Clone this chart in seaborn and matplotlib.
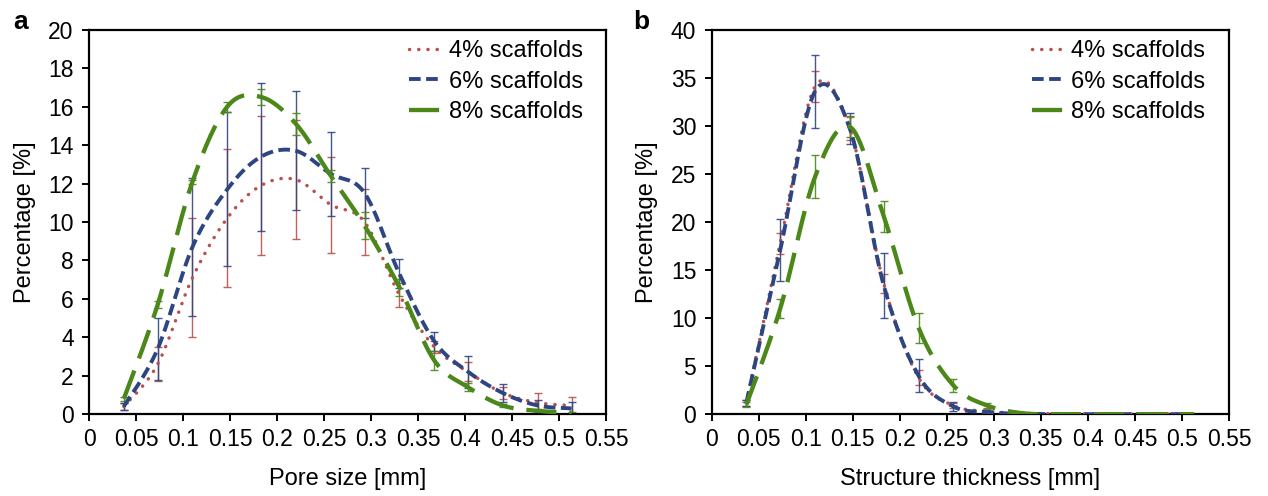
import numpy as np
import pandas as pd
import matplotlib
matplotlib.use("Agg")
import matplotlib.pyplot as plt
import seaborn as sns

# bin centres [mm] (same for both panels)
x_mm = [0.037, 0.073, 0.110, 0.147, 0.183, 0.220, 0.257,
        0.293, 0.330, 0.367, 0.403, 0.440, 0.477, 0.513]

# panel a - pore size distribution [%]
pore_4 = [0.4, 2.6, 7.1, 10.2, 11.9, 12.2, 10.9, 10.0, 6.2, 3.5, 2.2, 1.1, 0.6, 0.45]
pore_4_err = [0.2, 0.9, 3.1, 3.6, 3.6, 3.1, 2.5, 1.7, 0.6, 0.3, 0.5, 0.3, 0.5, 0.45]
pore_6 = [0.4, 3.4, 8.7, 11.7, 13.4, 13.7, 12.5, 11.5, 7.3, 3.8, 2.2, 1.1, 0.45, 0.3]
pore_6_err = [0.2, 1.6, 3.6, 4.0, 3.85, 3.1, 2.2, 1.3, 0.75, 0.5, 0.85, 0.45, 0.3, 0.35]
pore_8 = [0.8, 5.7, 12.1, 16.0, 16.5, 15.1, 12.4, 9.8, 6.6, 2.8, 1.4, 0.45, 0.17, 0.08]
pore_8_err = [0.1, 0.2, 0.1, 0.26, 0.4, 0.57, 0.3, 0.7, 0.45, 0.5, 0.2, 0.1, 0.1, 0.05]

# panel b - structure thickness distribution [%]
thick_4 = [1.2, 17.8, 34.1, 29.7, 13.6, 3.8, 0.9, 0.3, 0.1, 0.05, 0.05, 0.05, 0.05, 0.05]
thick_4_err = [0.3, 1.1, 1.6, 1.2, 1.0, 0.8, 0.3, 0.2, 0.05, 0.0, 0.0, 0.0, 0.0, 0.0]
thick_6 = [1.2, 17.1, 33.6, 29.7, 13.4, 4.0, 0.8, 0.2, 0.05, 0.0, 0.0, 0.0, 0.0, 0.0]
thick_6_err = [0.3, 3.2, 3.8, 1.6, 3.4, 1.7, 0.5, 0.2, 0.05, 0.0, 0.0, 0.0, 0.0, 0.0]
thick_8 = [1.0, 11.0, 24.7, 29.9, 20.6, 9.0, 3.0, 0.9, 0.1, 0.0, 0.0, 0.0, 0.0, 0.0]
thick_8_err = [0.3, 1.0, 2.25, 1.1, 1.6, 1.56, 0.65, 0.3, 0.05, 0.0, 0.0, 0.0, 0.0, 0.0]

labels = ["4% scaffolds", "6% scaffolds", "8% scaffolds"]
colors = ["#B9504B", "#2D4682", "#4B8719"]


def smooth(xs, ys, n=30):
    # Excel-like smoothed line: Catmull-Rom spline drawn as cubic Bezier pieces
    p = np.column_stack([xs, ys]).astype(float)
    p = np.vstack([p[0], p, p[-1]])
    t = np.linspace(0, 1, n)[:, None]
    out = []
    for i in range(1, len(p) - 2):
        p0, p1, p2, p3 = p[i - 1], p[i], p[i + 1], p[i + 2]
        c1 = p1 + (p2 - p0) / 6
        c2 = p2 - (p3 - p1) / 6
        seg = ((1 - t) ** 3) * p1 + 3 * ((1 - t) ** 2) * t * c1 + 3 * (1 - t) * t ** 2 * c2 + t ** 3 * p2
        out.append(seg if i == 1 else seg[1:])
    out = np.vstack(out)
    return pd.DataFrame({"x": out[:, 0], "y": out[:, 1]})


sns.set_theme(style="ticks")
plt.rcParams["font.family"] = ["Liberation Sans", "DejaVu Sans"]
plt.rcParams["text.color"] = "black"

fig = plt.figure(figsize=(12.68, 4.96), dpi=100)
ax_a = fig.add_axes([0.0702, 0.165, 0.408, 0.775])
ax_b = fig.add_axes([0.5612, 0.165, 0.408, 0.775])

styles = [
    dict(lw=2.5, ls=(0, (0.05, 2.6)), cap="round"),
    dict(lw=2.8, ls=(0, (3.0, 1.4)), cap="butt"),
    dict(lw=3.1, ls=(0, (7.0, 3.0)), cap="butt"),
]

panels = [
    (ax_a, [pore_4, pore_6, pore_8], [pore_4_err, pore_6_err, pore_8_err], 20, 2, "Pore size [mm]"),
    (ax_b, [thick_4, thick_6, thick_8], [thick_4_err, thick_6_err, thick_8_err], 40, 5, "Structure thickness [mm]"),
]

for ax, series, errs, ymax, ystep, xlabel in panels:
    handles = []
    for ys, es, lab, col, st in zip(series, errs, labels, colors, styles):
        ax.errorbar(x_mm, ys, yerr=es, fmt="none", ecolor=col, elinewidth=1.0,
                    capsize=3, capthick=1.0, alpha=0.9, zorder=2)
        sns.lineplot(data=smooth(x_mm, ys), x="x", y="y", ax=ax, color=col, lw=st["lw"],
                     linestyle=st["ls"], sort=False, estimator=None, label=lab, zorder=3)
        line = ax.lines[-1]
        line.set_dash_capstyle(st["cap"])
        handles.append(line)
    ax.set_xlim(0, 0.55)
    ax.set_ylim(0, ymax)
    ax.set_xticks(np.arange(0, 0.5501, 0.05))
    ax.set_xticklabels(["0", "0.05", "0.1", "0.15", "0.2", "0.25", "0.3", "0.35",
                        "0.4", "0.45", "0.5", "0.55"])
    ax.set_yticks(np.arange(0, ymax + 0.1, ystep))
    ax.tick_params(axis="both", direction="out", length=5, width=1.4, labelsize=16.5,
                   color="black", labelcolor="black", pad=6)
    ax.tick_params(axis="x", pad=5)
    for s in ax.spines.values():
        s.set_visible(True)
        s.set_linewidth(1.6)
        s.set_color("black")
    ax.set_xlabel(xlabel, fontsize=17, labelpad=12, color="black")
    ax.set_ylabel("Percentage [%]", fontsize=17, labelpad=9, color="black")
    ax.legend(handles=handles, labels=labels, loc="upper right", frameon=False,
              fontsize=17, handlelength=1.35, handletextpad=0.32, labelspacing=0.35,
              borderaxespad=0.6, bbox_to_anchor=(1.0, 1.034))

fig.text(0.016, 0.955, "a", fontsize=19, fontweight="bold", ha="center", va="center")
fig.text(0.506, 0.955, "b", fontsize=19, fontweight="bold", ha="center", va="center")

fig.savefig("out.png", dpi=100)
